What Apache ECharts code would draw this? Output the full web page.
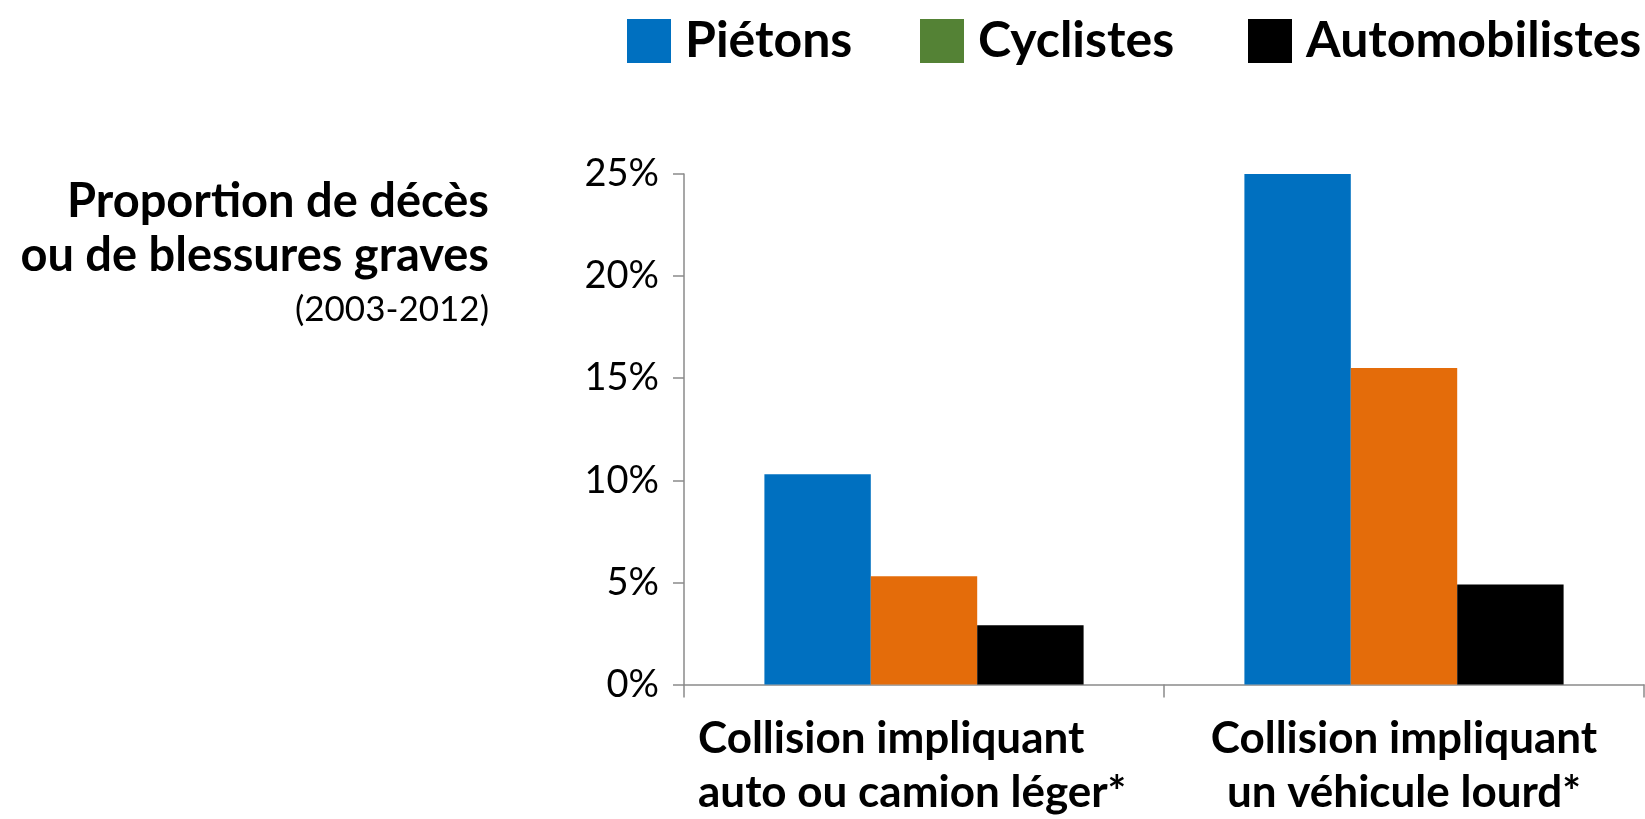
<!DOCTYPE html>
<html>
<head>
<meta charset="utf-8">
<script src="https://cdn.jsdelivr.net/npm/echarts@6/dist/echarts.min.js"></script>
<style>
html,body{margin:0;padding:0;background:#fff;}
#c{width:1645px;height:819px;}
</style>
</head>
<body>
<div id="c"></div>
<script>
// ---- data ----
const categories = ['Collision impliquant\nauto ou camion léger*', 'Collision impliquant\nun véhicule lourd*'];
const seriesNames = ['Piétons', 'Cyclistes', 'Automobilistes'];
const pietons = [10.3, 25.0];
const cyclistes = [5.3, 15.5];
const automobilistes = [2.9, 4.9];
const yMin = 0, yMax = 25, yStep = 5;
const titleLines = ['Proportion de décès', 'ou de blessures graves', '(2003-2012)'];

// ---- styles ----
const FONT = 'Lato';
const barColors = ['#0070C0', '#E46C0A', '#000000'];
const legendColors = ['#0070C0', '#548235', '#000000'];
const axisGray = '#8a8a8a';

const chart = echarts.init(document.getElementById('c'), null, {renderer: 'canvas'});

const xLabelRich = {
  l: {fontFamily: FONT, fontWeight: 'bold', fontSize: 44, lineHeight: 54, color: '#000', width: 452, align: 'left'},
  c: {fontFamily: FONT, fontWeight: 'bold', fontSize: 44, lineHeight: 54, color: '#000', align: 'center'}
};

const legendLefts = [627, 920, 1248];

const option = {
  backgroundColor: '#fff',
  animation: false,
  grid: {left: 684, right: 1, top: 174, height: 510.5, containLabel: false},
  legend: seriesNames.map((n, i) => ({
    left: legendLefts[i], top: 16, padding: 0,
    icon: 'rect', itemWidth: 44, itemHeight: 44,
    selectedMode: false,
    data: [{name: n, itemStyle: {color: legendColors[i]}}],
    textStyle: {fontFamily: FONT, fontWeight: 'bold', fontSize: 50, color: '#000', lineHeight: 44, padding: [0, 0, 0, 9]}
  })),
  xAxis: {
    type: 'category',
    data: categories,
    boundaryGap: true,
    axisLine: {show: true, lineStyle: {color: axisGray, width: 1.5}},
    axisTick: {show: true, length: 13, alignWithLabel: false, lineStyle: {color: axisGray, width: 1.5}},
    axisLabel: {
      margin: 27,
      interval: 0,
      formatter: function (v, idx) {
        const parts = v.split('\n');
        const k = idx === 0 ? 'l' : 'c';
        return parts.map(p => '{' + k + '|' + p + '}').join('\n');
      },
      rich: xLabelRich
    },
    splitLine: {show: false}
  },
  yAxis: {
    type: 'value',
    min: yMin, max: yMax, interval: yStep,
    axisLine: {show: true, lineStyle: {color: axisGray, width: 1.5}},
    axisTick: {show: true, length: 11, lineStyle: {color: axisGray, width: 1.5}},
    axisLabel: {formatter: '{value}%', fontFamily: FONT, fontSize: 38, color: '#000', margin: 25},
    splitLine: {show: false}
  },
  series: [
    {name: seriesNames[0], type: 'bar', data: pietons, barGap: '0%', barCategoryGap: '33.5%', itemStyle: {color: barColors[0]}},
    {name: seriesNames[1], type: 'bar', data: cyclistes, barGap: '0%', barCategoryGap: '33.5%', itemStyle: {color: barColors[1]}},
    {name: seriesNames[2], type: 'bar', data: automobilistes, barGap: '0%', barCategoryGap: '33.5%', itemStyle: {color: barColors[2]}}
  ],
  graphic: [
    {type: 'text', right: 1645 - 489, top: 178, style: {text: titleLines[0], fontFamily: FONT, fontWeight: 'bold', fontSize: 47, fill: '#000', textAlign: 'right'}},
    {type: 'text', right: 1645 - 489, top: 232, style: {text: titleLines[1], fontFamily: FONT, fontWeight: 'bold', fontSize: 47, fill: '#000', textAlign: 'right'}},
    {type: 'text', right: 1645 - 489, top: 292, style: {text: titleLines[2], fontFamily: FONT, fontWeight: 'normal', fontSize: 35, fill: '#000', textAlign: 'right'}}
  ]
};
chart.setOption(option);
</script>
</body>
</html>
